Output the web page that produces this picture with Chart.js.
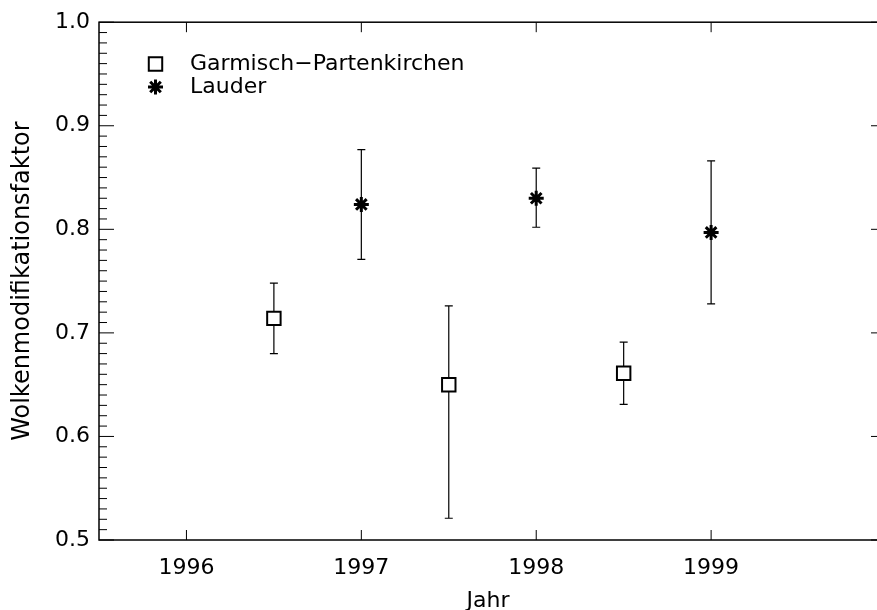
<!DOCTYPE html>
<html>
<head>
<meta charset="utf-8">
<script src="https://cdn.jsdelivr.net/npm/chart.js@4.4.1/dist/chart.umd.min.js"></script>
<style>
  html, body { margin: 0; padding: 0; background: #fff; overflow: hidden; }
  #wrap { width: 877px; height: 610px; }
</style>
</head>
<body>
<div id="wrap"><canvas id="chart" width="877" height="610"></canvas></div>
<script>
// values
const garmischYears = [1996.5, 1997.5, 1998.5];
const garmischValues = [0.714, 0.650, 0.661];
const garmischLow = [0.680, 0.521, 0.631];
const garmischHigh = [0.748, 0.726, 0.691];

const lauderYears = [1997, 1998, 1999];
const lauderValues = [0.824, 0.830, 0.797];
const lauderLow = [0.771, 0.802, 0.728];
const lauderHigh = [0.877, 0.859, 0.866];

const yearTicks = [1996, 1997, 1998, 1999];
const factorTicks = [0.5, 0.6, 0.7, 0.8, 0.9, 1.0];
const yearRange = [1995.5, 2000];   // full axis; the picture is cut off just before 2000

const FONT = "'DejaVu Sans', sans-serif";

function toPoints(xs, ys, lo, hi) {
  return xs.map((x, i) => ({x: x, y: ys[i], low: lo[i], high: hi[i]}));
}

// vertical error bars with short caps, drawn below the markers
const errorBars = {
  id: 'errorBars',
  beforeDatasetsDraw(chart) {
    const {ctx, scales: {x, y}} = chart;
    ctx.save();
    ctx.strokeStyle = '#000';
    ctx.lineWidth = 1.2;
    chart.data.datasets.forEach(ds => {
      ds.data.forEach(p => {
        const px = x.getPixelForValue(p.x);
        const top = y.getPixelForValue(p.high);
        const bot = y.getPixelForValue(p.low);
        ctx.beginPath();
        ctx.moveTo(px, top); ctx.lineTo(px, bot);
        ctx.moveTo(px - 4, top); ctx.lineTo(px + 4, top);
        ctx.moveTo(px - 4, bot); ctx.lineTo(px + 4, bot);
        ctx.stroke();
      });
    });
    ctx.restore();
  }
};

// box round the plot with inward ticks (right side runs off the canvas)
const frame = {
  id: 'frame',
  afterDatasetsDraw(chart) {
    const {ctx, chartArea: a, scales: {x, y}} = chart;
    const right = x.getPixelForValue(yearRange[1]);
    ctx.save();
    ctx.strokeStyle = '#000';
    ctx.lineWidth = 1.5;
    ctx.strokeRect(a.left, a.top, right - a.left, a.bottom - a.top);
    ctx.lineWidth = 1;
    ctx.beginPath();
    yearTicks.forEach(v => {
      const px = x.getPixelForValue(v);
      ctx.moveTo(px, a.bottom); ctx.lineTo(px, a.bottom - 10);
      ctx.moveTo(px, a.top); ctx.lineTo(px, a.top + 10);
    });
    for (let i = 0; i <= 50; i++) {
      const py = y.getPixelForValue(y.min + i * 0.01);
      const major = i % 10 === 0;
      ctx.moveTo(a.left, py); ctx.lineTo(a.left + (major ? 15 : 8), py);
      if (major) { ctx.moveTo(right, py); ctx.lineTo(right - 15, py); }
    }
    ctx.stroke();
    ctx.restore();
  }
};

// legend in the upper left corner of the plot
const cornerLegend = {
  id: 'cornerLegend',
  afterDraw(chart) {
    const {ctx} = chart;
    const rows = [64, 87];
    ctx.save();
    ctx.font = '22px ' + FONT;
    ctx.textBaseline = 'middle';
    chart.data.datasets.forEach((ds, i) => {
      ctx.strokeStyle = '#000';
      ctx.fillStyle = '#fff';
      ctx.lineWidth = ds.pointBorderWidth;
      Chart.helpers.drawPoint(ctx, {
        pointStyle: ds.pointStyle, radius: ds.pointRadius,
        rotation: 0, borderWidth: ds.pointBorderWidth
      }, 155.5, rows[i]);
      ctx.fillStyle = '#000';
      ctx.fillText(ds.label, 190, rows[i]);
    });
    ctx.restore();
  }
};

new Chart(document.getElementById('chart'), {
  type: 'scatter',
  data: {
    datasets: [
      {
        label: 'Garmisch\u2212Partenkirchen',
        data: toPoints(garmischYears, garmischValues, garmischLow, garmischHigh),
        pointStyle: 'rect',
        pointRadius: 9.5,
        pointBorderWidth: 2,
        borderColor: '#000',
        backgroundColor: '#fff'
      },
      {
        label: 'Lauder',
        data: toPoints(lauderYears, lauderValues, lauderLow, lauderHigh),
        pointStyle: 'star',
        pointRadius: 7.5,
        pointBorderWidth: 3,
        borderColor: '#000',
        backgroundColor: '#000'
      }
    ]
  },
  options: {
    responsive: false,
    animation: false,
    layout: {autoPadding: false, padding: {top: 16, right: 0, left: 0, bottom: 0}},
    plugins: {legend: {display: false}, tooltip: {enabled: false}},
    scales: {
      x: {
        type: 'linear',
        min: yearRange[0],
        // the visible part stops at the canvas edge
        max: yearRange[0] + (yearRange[1] - yearRange[0]) * (877 - 99) / (886 - 99),
        afterFit(scale) {
          scale.height = 70;
          scale.paddingLeft = 0;
          scale.paddingRight = 0;
        },
        afterBuildTicks(scale) { scale.ticks = yearTicks.map(v => ({value: v})); },
        grid: {display: false, drawTicks: false},
        border: {display: false},
        ticks: {
          color: '#000',
          font: {family: FONT, size: 22},
          padding: 15,
          maxRotation: 0,
          callback: v => String(v)
        },
        title: {
          display: true,
          text: 'Jahr',
          color: '#000',
          font: {family: FONT, size: 22, lineHeight: 0.75},
          padding: {top: 0, bottom: 0}
        }
      },
      y: {
        min: 0.5,
        max: 1.0,
        afterFit(scale) { scale.width = 99; },
        afterBuildTicks(scale) { scale.ticks = factorTicks.map(v => ({value: v})); },
        grid: {display: false, drawTicks: false},
        border: {display: false},
        ticks: {
          color: '#000',
          font: {family: FONT, size: 22},
          padding: 9,
          callback: v => Number(v).toFixed(1)
        },
        title: {
          display: true,
          text: 'Wolkenmodifikationsfaktor',
          color: '#000',
          font: {family: FONT, size: 24, lineHeight: 1.2},
          padding: {top: 8, bottom: 0}
        }
      }
    }
  },
  plugins: [errorBars, frame, cornerLegend]
});
</script>
</body>
</html>
